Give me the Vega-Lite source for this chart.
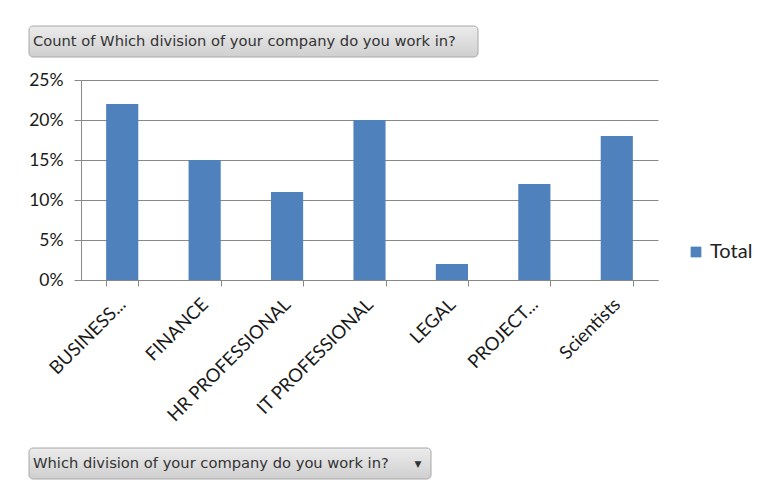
{
  "$schema": "https://vega.github.io/schema/vega-lite/v6.json",
  "padding": {"left": 28, "top": 25, "right": 0, "bottom": 0},
  "background": "white",
  "spacing": 13,
  "bounds": "full",
  "vconcat": [
    {
      "width": 577,
      "height": 31,
      "view": {"stroke": null},
      "data": {"values": [{"label": "Count of Which division of your company do you work in?", "start": -52, "end": 397, "textAt": -48}]},
      "layer": [
        {
          "mark": {"type": "rect", "cornerRadius": 4, "stroke": "#a8a8a8", "strokeWidth": 1,
            "fill": {"gradient": "linear", "x1": 0, "y1": 0, "x2": 0, "y2": 1, "stops": [{"offset": 0, "color": "#ececec"}, {"offset": 1, "color": "#cfcfcf"}]}},
          "encoding": {
            "x": {"field": "start", "type": "quantitative", "scale": {"domain": [0, 577], "nice": false, "zero": false}, "axis": null},
            "x2": {"field": "end"}
          }
        },
        {
          "mark": {"type": "text", "align": "left", "baseline": "middle", "font": "DejaVu Sans", "fontSize": 14.7, "color": "#333333"},
          "encoding": {
            "text": {"field": "label"},
            "x": {"field": "textAt", "type": "quantitative"}
          }
        }
      ]
    },
    {
      "width": 577,
      "height": 200,
      "view": {"stroke": null},
      "data": {"values": [
        {"division": "BUSINESS...", "share": 0.22, "series": "Total"},
        {"division": "FINANCE", "share": 0.15, "series": "Total"},
        {"division": "HR PROFESSIONAL", "share": 0.11, "series": "Total"},
        {"division": "IT PROFESSIONAL", "share": 0.20, "series": "Total"},
        {"division": "LEGAL", "share": 0.02, "series": "Total"},
        {"division": "PROJECT...", "share": 0.12, "series": "Total"},
        {"division": "Scientists", "share": 0.18, "series": "Total"}
      ]},
      "mark": {"type": "bar"},
      "encoding": {
        "x": {
          "field": "division", "type": "nominal", "sort": null,
          "scale": {"paddingInner": 0.61, "paddingOuter": 0.305},
          "axis": {"title": null, "labelAngle": -45, "labelAlign": "right", "labelBaseline": "middle", "labelPadding": 15, "labelFontSize": 18.5, "ticks": true, "tickBand": "extent", "tickSize": 6, "grid": false, "domain": true}
        },
        "y": {
          "field": "share", "type": "quantitative",
          "scale": {"domain": [0, 0.25]},
          "axis": {"title": null, "format": ".0%", "values": [0, 0.05, 0.1, 0.15, 0.2, 0.25], "grid": true, "ticks": true, "tickSize": 7, "domain": true, "labelPadding": 11, "labelFontSize": 17.5}
        },
        "color": {
          "field": "series", "type": "nominal",
          "scale": {"range": ["#4F81BD"]},
          "legend": {"title": null, "orient": "none", "legendX": 605, "legendY": 216, "symbolType": "square", "symbolSize": 115, "symbolStrokeWidth": 0, "labelFontSize": 20, "labelFont": "Lato", "labelColor": "#222222", "labelOffset": 4}
        }
      }
    },
    {
      "width": 577,
      "height": 41,
      "view": {"stroke": null},
      "data": {"values": [{"label": "Which division of your company do you work in?", "arrow": "▼", "start": -52, "end": 350, "textAt": -48, "arrowAt": 337, "bottom": 0, "top": 31, "mid": 15.5}]},
      "encoding": {
        "y": {"field": "mid", "type": "quantitative", "scale": {"domain": [0, 41], "nice": false, "zero": false}, "axis": null}
      },
      "layer": [
        {
          "mark": {"type": "rect", "cornerRadius": 4, "stroke": "#a8a8a8", "strokeWidth": 1,
            "fill": {"gradient": "linear", "x1": 0, "y1": 0, "x2": 0, "y2": 1, "stops": [{"offset": 0, "color": "#ececec"}, {"offset": 1, "color": "#cfcfcf"}]}},
          "encoding": {
            "x": {"field": "start", "type": "quantitative", "scale": {"domain": [0, 577], "nice": false, "zero": false}, "axis": null},
            "x2": {"field": "end"},
            "y": {"field": "bottom", "type": "quantitative"},
            "y2": {"field": "top"}
          }
        },
        {
          "mark": {"type": "text", "align": "left", "baseline": "middle", "font": "DejaVu Sans", "fontSize": 14.7, "color": "#333333"},
          "encoding": {
            "text": {"field": "label"},
            "x": {"field": "textAt", "type": "quantitative"}
          }
        },
        {
          "mark": {"type": "text", "align": "center", "baseline": "middle", "font": "DejaVu Sans", "fontSize": 9, "color": "#333333"},
          "encoding": {
            "text": {"field": "arrow"},
            "x": {"field": "arrowAt", "type": "quantitative"}
          }
        }
      ]
    }
  ],
  "config": {
    "axis": {"labelFont": "Lato", "labelFontSize": 16, "labelColor": "#1a1a1a", "domainColor": "#888888", "tickColor": "#888888", "gridColor": "#888888"}
  }
}
